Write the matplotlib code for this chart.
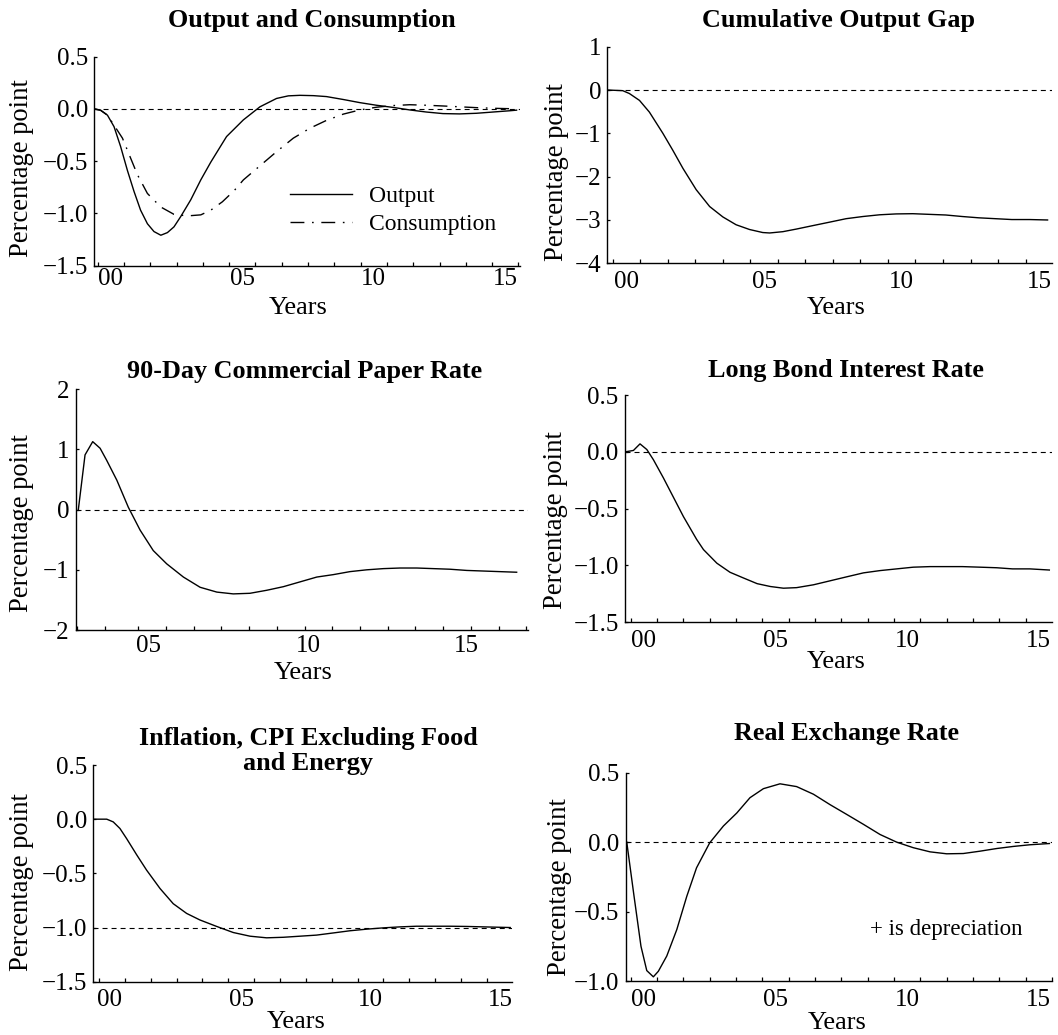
import matplotlib
matplotlib.use("Agg")
import matplotlib.pyplot as plt

plt.rcParams['font.family'] = ['Liberation Serif', 'DejaVu Serif']
plt.rcParams['lines.scale_dashes'] = False
plt.rcParams['axes.unicode_minus'] = True

# ---------------- data (years since shock, percentage points) ----------------
t_output = [-0.13, 0.11, 0.37, 0.62, 0.87, 1.13, 1.38, 1.63, 1.89, 2.14, 2.4, 2.65, 2.9, 3.16,
            3.54, 3.92, 4.3, 4.74, 4.9, 5.54, 6.17, 6.8, 7.25, 7.69, 8.2, 8.7, 9.34, 9.97,
            10.6, 11.24, 11.87, 12.5, 13.13, 13.76, 14.4, 15.03, 15.66, 15.93]
output = [0.0, -0.013, -0.06, -0.17, -0.36, -0.59, -0.79, -0.97, -1.1, -1.175, -1.21, -1.185,
          -1.13, -1.03, -0.87, -0.68, -0.51, -0.33, -0.265, -0.105, 0.02, 0.1, 0.125, 0.13,
          0.127, 0.118, 0.09, 0.06, 0.035, 0.014, -0.01, -0.03, -0.045, -0.048, -0.042,
          -0.03, -0.018, -0.012]

t_consumption = [-0.13, 0.11, 0.37, 0.62, 0.94, 1.2, 1.51, 1.89, 2.4, 2.9, 3.41, 3.92, 4.3,
                 4.74, 5.2, 5.54, 6.17, 6.8, 7.44, 8.07, 8.7, 9.34, 9.97, 10.6, 11.24, 11.87,
                 12.5, 13.13, 13.76, 14.4, 15.03, 15.66, 15.93]
consumption = [0.0, -0.013, -0.06, -0.156, -0.28, -0.44, -0.63, -0.81, -0.94, -1.01, -1.025,
               -1.015, -0.97, -0.89, -0.78, -0.68, -0.545, -0.41, -0.28, -0.185, -0.11, -0.05,
               -0.01, 0.016, 0.032, 0.04, 0.035, 0.028, 0.02, 0.012, 0.006, 0.002, 0.0]

t_gap = [-0.18, 0.36, 0.6, 0.97, 1.33, 1.82, 2.18, 2.55, 3.03, 3.52, 4.0, 4.48, 4.97, 5.45,
         5.7, 6.18, 6.67, 7.27, 7.88, 8.48, 9.09, 9.7, 10.3, 10.9, 11.5, 12.1, 12.7, 13.3,
         13.9, 14.5, 15.15, 15.8]
cum_gap = [0.0, -0.015, -0.08, -0.24, -0.51, -1.0, -1.39, -1.81, -2.3, -2.69, -2.93, -3.11,
           -3.22, -3.29, -3.3, -3.27, -3.21, -3.13, -3.05, -2.97, -2.92, -2.88, -2.86, -2.855,
           -2.87, -2.885, -2.92, -2.95, -2.97, -2.99, -2.99, -3.0]

t_cp = [-0.125, 0.12, 0.4, 0.67, 0.91, 1.28, 1.7, 2.13, 2.61, 3.1, 3.71, 4.32, 4.93, 5.53,
        6.14, 6.75, 7.36, 7.97, 8.58, 9.18, 9.79, 10.4, 11.01, 11.62, 12.23, 12.83, 13.44,
        14.05, 14.66, 15.26, 15.875]
cp_rate = [0.0, 0.91, 1.13, 1.02, 0.82, 0.49, 0.04, -0.34, -0.68, -0.9, -1.12, -1.29, -1.37,
           -1.4, -1.39, -1.34, -1.28, -1.2, -1.12, -1.08, -1.03, -1.0, -0.98, -0.97, -0.97,
           -0.98, -0.99, -1.01, -1.02, -1.03, -1.04]

t_bond = [-0.21, 0.1, 0.35, 0.61, 0.86, 1.24, 1.62, 2.0, 2.5, 2.76, 3.27, 3.77, 4.28, 4.8,
          5.3, 5.8, 6.3, 6.94, 7.57, 8.2, 8.84, 9.47, 10.1, 10.73, 11.37, 12.0, 12.6, 13.27,
          13.9, 14.5, 15.16, 15.9]
long_bond = [0.0, 0.012, 0.07, 0.02, -0.07, -0.23, -0.4, -0.57, -0.77, -0.86, -0.98, -1.06,
             -1.11, -1.16, -1.185, -1.2, -1.195, -1.17, -1.135, -1.1, -1.065, -1.045, -1.03,
             -1.015, -1.01, -1.01, -1.01, -1.015, -1.02, -1.03, -1.03, -1.04]

t_infl = [-0.22, 0.3, 0.55, 0.81, 1.07, 1.46, 1.84, 2.36, 2.87, 3.39, 3.9, 4.55, 5.19, 5.84,
          6.48, 7.13, 7.77, 8.41, 9.06, 9.7, 10.35, 11.0, 11.64, 12.28, 12.9, 13.57, 14.2,
          14.86, 15.9]
inflation = [0.0, 0.0, -0.025, -0.086, -0.18, -0.33, -0.47, -0.64, -0.78, -0.87, -0.93, -0.99,
             -1.046, -1.08, -1.095, -1.09, -1.08, -1.07, -1.05, -1.03, -1.015, -1.003, -0.994,
             -0.988, -0.988, -0.988, -0.99, -0.994, -1.0]

t_rer = [-0.15, 0.12, 0.39, 0.61, 0.86, 1.05, 1.37, 1.75, 2.13, 2.5, 3.0, 3.52, 4.03, 4.53,
         5.04, 5.67, 6.3, 6.94, 7.57, 8.2, 8.84, 9.47, 10.1, 10.73, 11.37, 12.0, 12.63, 13.27,
         13.9, 14.53, 15.16, 15.9]
real_fx = [0.0, -0.38, -0.75, -0.925, -0.97, -0.93, -0.82, -0.63, -0.39, -0.185, -0.005, 0.116,
           0.21, 0.32, 0.385, 0.42, 0.40, 0.345, 0.27, 0.2, 0.128, 0.055, 0.0, -0.04, -0.07,
           -0.084, -0.082, -0.065, -0.046, -0.031, -0.019, -0.01]

titles = ["Output and Consumption", "Cumulative Output Gap", "90-Day Commercial Paper Rate",
          "Long Bond Interest Rate", "Inflation, CPI Excluding Food\nand Energy",
          "Real Exchange Rate"]
year_labels = ["00", "05", "10", "15"]
cp_year_labels = ["05", "10", "15"]

# ---------------- layout ----------------
W, H = 1058, 1035
fig = plt.figure(figsize=(W / 100, H / 100), dpi=100)


def box(x0, x1, y0, y1):
    return [x0 / W, 1 - y1 / H, (x1 - x0) / W, (y1 - y0) / H]


FS = 18
LW = 1.0
ZERO_STYLE = dict(color="black", lw=0.8, ls=(0, (3.6, 2.9)))


def style_axes(ax, xlim, ylim, yticks, yfmt, xlabpos, xlabels, minor, pad_x):
    ax.set_xlim(*xlim)
    ax.set_ylim(*ylim)
    for s in ("top", "right"):
        ax.spines[s].set_visible(False)
    for s in ("left", "bottom"):
        ax.spines[s].set_linewidth(1.0)
    ax.set_yticks(yticks)
    ax.set_yticklabels([yfmt.format(v).replace("-", "\u2212") for v in yticks])
    ax.set_xticks(xlabpos)
    ax.set_xticklabels(xlabels)
    ax.set_xticks(minor, minor=True)
    ax.tick_params(axis="x", which="major", length=0, pad=pad_x, labelsize=FS)
    ax.tick_params(axis="x", which="minor", direction="in", length=3.2, width=0.9)
    ax.tick_params(axis="y", which="major", direction="in", length=2.2, width=0.9,
                   pad=4.5, labelsize=FS)
    ax.tick_params(axis="y", which="minor", length=0)


def add_texts(title_xy, ylab_xy, xlab_xy, title):
    fig.text(title_xy[0] / W, 1 - title_xy[1] / H, title, ha="center", va="center",
             fontsize=18.8, fontweight="bold", linespacing=1.08)
    fig.text(ylab_xy[0] / W, 1 - ylab_xy[1] / H, "Percentage point", ha="center",
             va="center", rotation=90, fontsize=19.2)
    fig.text(xlab_xy[0] / W, 1 - xlab_xy[1] / H, "Years", ha="center", va="center",
             fontsize=19)


std_labpos = [0.5, 5.5, 10.5, 15.5]

# Panel 1
ax1 = fig.add_axes(box(94.3, 520, 56.7, 265.5))
ax1.axhline(0, **ZERO_STYLE)
ax1.plot(t_output, output, color="black", lw=LW, label="Output")
ax1.plot(t_consumption, consumption, color="black", lw=LW, ls=(0, (10, 5.5, 1.2, 5.5)),
         label="Consumption")
style_axes(ax1, (-0.13, 16.06), (-1.5, 0.5), [0.5, 0.0, -0.5, -1.0, -1.5], "{:.1f}",
           std_labpos, year_labels, list(range(0, 17)), 1.5)
ax1.legend(loc="center left", bbox_to_anchor=(0.46, 0.265), frameon=False, fontsize=17,
           handlelength=2.6, handletextpad=0.72, labelspacing=0.28, borderpad=0,
           borderaxespad=0)
add_texts((312, 20), (21.7, 168), (298, 308), titles[0])

# Panel 2
ax2 = fig.add_axes(box(607.3, 1051.7, 46.7, 263.3))
ax2.axhline(0, **ZERO_STYLE)
ax2.plot(t_gap, cum_gap, color="black", lw=LW)
style_axes(ax2, (-0.2, 15.95), (-4, 1), [1, 0, -1, -2, -3, -4], "{:d}",
           std_labpos, year_labels, list(range(0, 16)), 5.5)
add_texts((838, 20), (556.7, 171.7), (835.8, 308), titles[1])

# Panel 3
ax3 = fig.add_axes(box(76, 528.3, 389.3, 630))
ax3.axhline(0, **ZERO_STYLE)
ax3.plot(t_cp, cp_rate, color="black", lw=LW)
cp_minor = [-0.16, 0.85] + [2.06 + 1.012 * k for k in range(15)]
style_axes(ax3, (-0.21, 16.3), (-2, 2), [2, 1, 0, -1, -2], "{:d}",
           [2.43, 8.27, 14.05], cp_year_labels, cp_minor, 3.5)
add_texts((305, 371.7), (21.7, 523), (303, 673), titles[2])

# Panel 4
ax4 = fig.add_axes(box(625, 1051.7, 395, 622.3))
ax4.axhline(0, **ZERO_STYLE)
ax4.plot(t_bond, long_bond, color="black", lw=LW)
style_axes(ax4, (-0.22, 15.99), (-1.5, 0.5), [0.5, 0.0, -0.5, -1.0, -1.5], "{:.1f}",
           std_labpos, year_labels, list(range(0, 16)), 5.5)
add_texts((845.7, 370.7), (555, 520), (836.7, 661.7), titles[3])

# Panel 5
ax5 = fig.add_axes(box(93.3, 512.3, 765, 981.7))
ax5.axhline(-1.0, **ZERO_STYLE)
ax5.plot(t_infl, inflation, color="black", lw=LW)
style_axes(ax5, (-0.22, 15.98), (-1.5, 0.5), [0.5, 0.0, -0.5, -1.0, -1.5], "{:.1f}",
           [0.4, 5.5, 10.5, 15.5], year_labels, list(range(0, 16)), 5.5)
add_texts((308, 751), (21.7, 881.7), (296.7, 1021.7), titles[4])

# Panel 6
ax6 = fig.add_axes(box(625.7, 1052, 772.7, 981))
ax6.axhline(0, **ZERO_STYLE)
ax6.plot(t_rer, real_fx, color="black", lw=LW)
style_axes(ax6, (-0.19, 16.0), (-1.0, 0.5), [0.5, 0.0, -0.5, -1.0], "{:.1f}",
           std_labpos, year_labels, list(range(0, 17)), 5.5)
ax6.text(9.09, -0.63, "+ is depreciation", ha="left", va="center", fontsize=16.5)
add_texts((846.7, 733.3), (560, 886.7), (837, 1022.7), titles[5])

fig.savefig("out.png", dpi=100)
